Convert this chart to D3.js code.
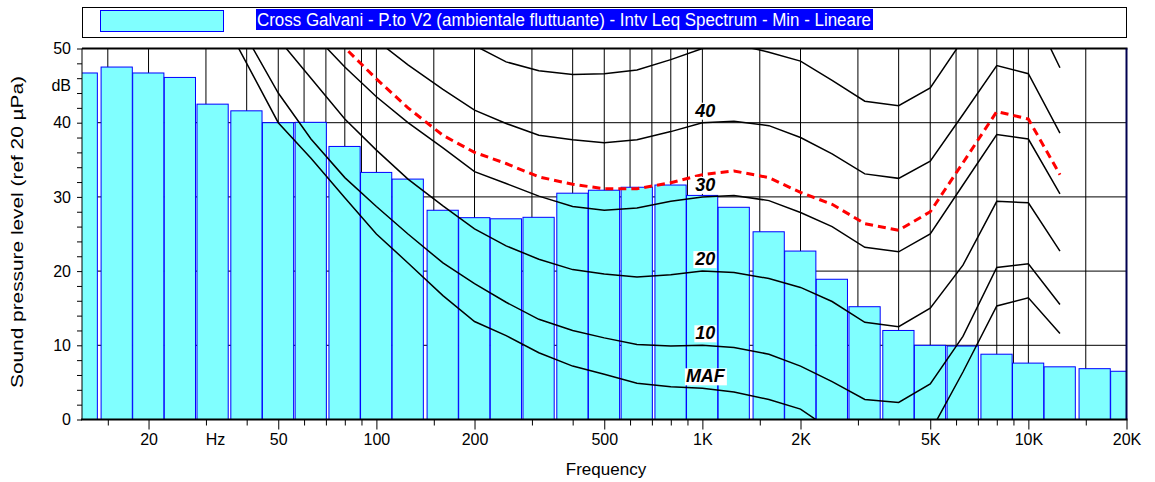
<!DOCTYPE html>
<html>
<head>
<meta charset="utf-8">
<title>Intv Leq Spectrum - Min</title>
<script src="https://cdn.jsdelivr.net/npm/d3@7"></script>
<style>
body { margin: 0; background: #fff; }
svg { display: block; font-family: Arial, "Liberation Sans", sans-serif; }
.grid line { stroke: #000; stroke-width: 1; }
.bar { fill: #80ffff; stroke: #0000ff; stroke-width: 1; }
.iso { fill: none; stroke: #000; stroke-width: 1.5; }
.loud { fill: none; stroke: #ff0000; stroke-width: 3; stroke-dasharray: 8,5; }
.axis text { font-size: 16px; fill: #000; }
.axis line { stroke: #000; }
.lbl { font-size: 18px; font-weight: bold; font-style: italic; }
</style>
</head>
<body>
<svg id="chart" width="1155" height="482"></svg>
<script>
// 1/3 octave bands and measured levels (Leq, min)
var bands = [12.5, 16, 20, 25, 31.5, 40, 50, 63, 80, 100, 125, 160, 200, 250, 315, 400, 500,
             630, 800, 1000, 1250, 1600, 2000, 2500, 3150, 4000, 5000, 6300, 8000, 10000,
             12500, 16000, 20000];
var leqMin = [46.7, 47.5, 46.7, 46.1, 42.5, 41.6, 40.0, 40.05, 36.8, 33.3, 32.4, 28.2, 27.2,
              27.05, 27.25, 30.5, 30.9, 31.3, 31.6, 30.2, 28.6, 25.3, 22.7, 18.9, 15.2, 12.0,
              10.0, 9.9, 8.8, 7.6, 7.1, 6.85, 6.5];

// isophone curves (equal loudness), dB at the iso frequencies
var isoFreqs = [20, 25, 31.5, 40, 50, 63, 80, 100, 125, 160, 200, 250, 315, 400, 500, 630, 800,
                1000, 1250, 1600, 2000, 2500, 3150, 4000, 5000, 6300, 8000, 10000, 12500];
var mafCurve = [null, null, 56.5, 48.0, 40.0, 35.2, 29.9, 25.0, 21.1, 16.7, 13.2, 11.3, 9.0, 7.2,
                6.1, 4.9, 4.4, 4.2, 3.7, 2.7, 1.4, -1.5, -3.5, -3.8, -1.7, 6.4, 15.3, 16.4, 11.6];
var phon10 = [null, null, null, 51.5, 44.0, 37.8, 32.6, 28.7, 25.0, 21.1, 18.3, 15.8, 13.5, 12.0,
              11.0, 10.1, 9.9, 10.0, 9.7, 8.8, 7.2, 5.1, 2.7, 2.3, 4.8, 11.2, 20.5, 21.0, 15.5];
var phon20 = [null, null, null, null, 51.3, 46.0, 40.5, 36.3, 32.4, 28.8, 25.7, 23.4, 21.6, 20.2,
              19.6, 19.2, 19.5, 20.0, 19.8, 19.0, 17.8, 15.9, 13.1, 12.5, 15.0, 20.8, 29.4, 29.2, 22.7];
var phon30 = [null, null, null, null, null, 52.3, 47.5, 43.5, 40.0, 36.6, 33.4, 31.8, 30.1, 28.7,
              28.2, 28.5, 29.4, 30.0, 30.2, 29.5, 27.9, 26.0, 23.2, 22.6, 25.0, 31.6, 38.4, 37.8, 30.4];
var phon40 = [null, null, null, null, null, null, null, 51.1, 47.8, 44.5, 41.7, 39.9, 38.3, 37.7,
              37.3, 37.7, 38.8, 40.0, 40.2, 39.6, 38.0, 35.8, 33.1, 32.5, 34.8, 41.1, 47.7, 46.6, 38.6];
var phon50 = [null, null, null, null, null, null, null, null, null, null, 50.4, 48.2, 47.0, 46.5,
              46.6, 47.1, 48.5, 50.0, 50.6, 49.5, 48.3, 45.7, 42.9, 42.3, 44.7, 51.2, 57.5, 56.2, 47.4];
var loudCurve = [null, null, null, null, null, 54.5, 50.1, 45.9, 42.0, 38.3, 36.0, 34.5, 32.7, 31.7,
                 31.1, 31.1, 31.9, 33.0, 33.5, 32.6, 30.6, 29.0, 26.4, 25.5, 28.0, 34.6, 41.5, 40.5, 33.0];
var curveLabels = ["MAF", "10", "20", "30", "40"];

// axes
var gridFreqs = [15, 20, 30, 40, 50, 60, 70, 80, 90, 100, 150, 200, 300, 400, 500, 600, 700, 800,
                 900, 1000, 1500, 2000, 3000, 4000, 5000, 6000, 7000, 8000, 9000, 10000, 15000, 20000];
var labelFreqs = [20, 32, 50, 100, 200, 500, 1000, 2000, 5000, 10000, 20000];
var labelTexts = ["20", "Hz", "50", "100", "200", "500", "1K", "2K", "5K", "10K", "20K"];
var yMinor = d3.range(0, 51, 2);
var yLabelVals = [0, 10, 20, 30, 40, 45, 50];
var yLabelTexts = ["0", "10", "20", "30", "40", "dB", "50"];
var yGrid = [10, 20, 30, 40];

var legendText = "Cross Galvani - P.to V2 (ambientale fluttuante) - Intv Leq Spectrum - Min - Lineare";

var svg = d3.select("#chart");
var pLeft = 82, pRight = 1126.5, pTop = 48.5, pBottom = 419.5;

var x = d3.scaleLog().domain([12.5, 20000]).range([pLeft, pRight]);
var y = d3.scaleLinear().domain([0, 50]).range([pBottom, pTop]);

svg.append("defs").append("clipPath").attr("id", "plotclip")
  .append("rect").attr("x", pLeft).attr("y", pTop)
  .attr("width", pRight - pLeft).attr("height", pBottom - pTop);

// grid behind bars
var grid = svg.append("g").attr("class", "grid");
grid.selectAll(".v").data(gridFreqs.filter(function(f) { return f < 20000; }))
  .enter().append("line")
  .attr("x1", function(d) { return x(d); }).attr("x2", function(d) { return x(d); })
  .attr("y1", pTop).attr("y2", pBottom);
grid.selectAll(".h").data(yGrid).enter().append("line")
  .attr("x1", pLeft).attr("x2", pRight)
  .attr("y1", function(d) { return y(d); }).attr("y2", function(d) { return y(d); });

// bars
var step = Math.pow(2, 1 / 6);
svg.append("g").attr("clip-path", "url(#plotclip)")
  .selectAll("rect").data(bands).enter().append("rect")
  .attr("class", "bar")
  .attr("x", function(d) { return x(d / step) + 0.5; })
  .attr("width", function(d) { return x(d * step) - x(d / step) - 1.5; })
  .attr("y", function(d, i) { return y(leqMin[i]); })
  .attr("height", function(d, i) { return y(0) - y(leqMin[i]); });

// isophones
function series(vals) {
  return isoFreqs.map(function(f, i) { return [f, vals[i]]; })
    .filter(function(p) { return p[1] !== null; });
}
var line = d3.line().x(function(d) { return x(d[0]); }).y(function(d) { return y(d[1]); });
var curves = [mafCurve, phon10, phon20, phon30, phon40, phon50];

var plot = svg.append("g").attr("clip-path", "url(#plotclip)");
plot.selectAll(".iso").data(curves).enter().append("path")
  .attr("class", "iso")
  .attr("d", function(d) { return line(series(d)); });
plot.append("path").attr("class", "loud").attr("d", line(series(loudCurve)));

// curve labels at 1 kHz
var k = isoFreqs.indexOf(1000);
var lbls = svg.append("g");
curveLabels.forEach(function(t, i) {
  var g = lbls.append("g");
  var txt = g.append("text").attr("class", "lbl")
    .attr("x", x(1000) + 3).attr("y", y(curves[i][k]) - 6)
    .attr("text-anchor", "middle").text(t);
  var bb = txt.node().getBBox();
  g.insert("rect", "text").attr("x", bb.x - 1).attr("y", bb.y + 2)
    .attr("width", bb.width + 2).attr("height", bb.height - 3).attr("fill", "#fff");
});

// frame
svg.append("line").attr("x1", pLeft).attr("x2", pLeft).attr("y1", pTop).attr("y2", pBottom)
  .attr("stroke", "#000").attr("stroke-width", 1);
svg.append("line").attr("x1", pLeft).attr("x2", pRight + 1).attr("y1", pTop).attr("y2", pTop)
  .attr("stroke", "#000").attr("stroke-width", 2);
svg.append("line").attr("x1", pRight).attr("x2", pRight).attr("y1", pTop).attr("y2", pBottom)
  .attr("stroke", "#000050").attr("stroke-width", 2);
svg.append("line").attr("x1", pLeft - 1).attr("x2", pRight + 1).attr("y1", pBottom).attr("y2", pBottom)
  .attr("stroke", "#000").attr("stroke-width", 2);

// x axis
svg.append("g").attr("class", "axis")
  .attr("transform", "translate(0," + pBottom + ")")
  .call(d3.axisBottom(x).tickValues(gridFreqs.filter(function(f) { return labelFreqs.indexOf(f) < 0; }))
    .tickSize(6).tickFormat(""))
  .call(function(g) { g.select(".domain").remove(); });
svg.append("g").attr("class", "axis")
  .attr("transform", "translate(0," + pBottom + ")")
  .call(d3.axisBottom(x).tickValues(labelFreqs).tickSize(10).tickPadding(4)
    .tickFormat(function(d, i) { return labelTexts[i]; }))
  .call(function(g) {
    g.select(".domain").remove();
    g.selectAll(".tick").filter(function(d) { return d === 32; }).select("line").remove();
  });

// y axis
svg.append("g").attr("class", "axis")
  .attr("transform", "translate(" + pLeft + ",0)")
  .call(d3.axisLeft(y).tickValues(yMinor).tickSize(5).tickFormat(""))
  .call(function(g) { g.select(".domain").remove(); });
svg.append("g").attr("class", "axis")
  .attr("transform", "translate(" + pLeft + ",0)")
  .call(d3.axisLeft(y).tickValues(yLabelVals).tickSize(0).tickPadding(11)
    .tickFormat(function(d, i) { return yLabelTexts[i]; }))
  .call(function(g) { g.select(".domain").remove(); });

// titles
svg.append("text").attr("transform", "translate(23," + 232 + ") rotate(-90)")
  .attr("text-anchor", "middle").attr("font-size", 17)
  .attr("textLength", 312).attr("lengthAdjust", "spacingAndGlyphs")
  .text("Sound pressure level (ref 20 µPa)");
svg.append("text").attr("x", 606).attr("y", 475)
  .attr("text-anchor", "middle").attr("font-size", 17)
  .text("Frequency");

// legend
var leg = svg.append("g");
leg.append("rect").attr("x", 82.5).attr("y", 7.5).attr("width", 1044).attr("height", 30)
  .attr("fill", "#fff").attr("stroke", "#000");
leg.append("rect").attr("x", 100.5).attr("y", 10.5).attr("width", 123).attr("height", 21)
  .attr("fill", "#80ffff").attr("stroke", "#0000ff");
leg.append("rect").attr("x", 256).attr("y", 9).attr("width", 617).attr("height", 21)
  .attr("fill", "#0000ff");
leg.append("text").attr("x", 257).attr("y", 26).attr("font-size", 18).attr("fill", "#fff")
  .attr("textLength", 614).attr("lengthAdjust", "spacingAndGlyphs")
  .text(legendText);
</script>
</body>
</html>
